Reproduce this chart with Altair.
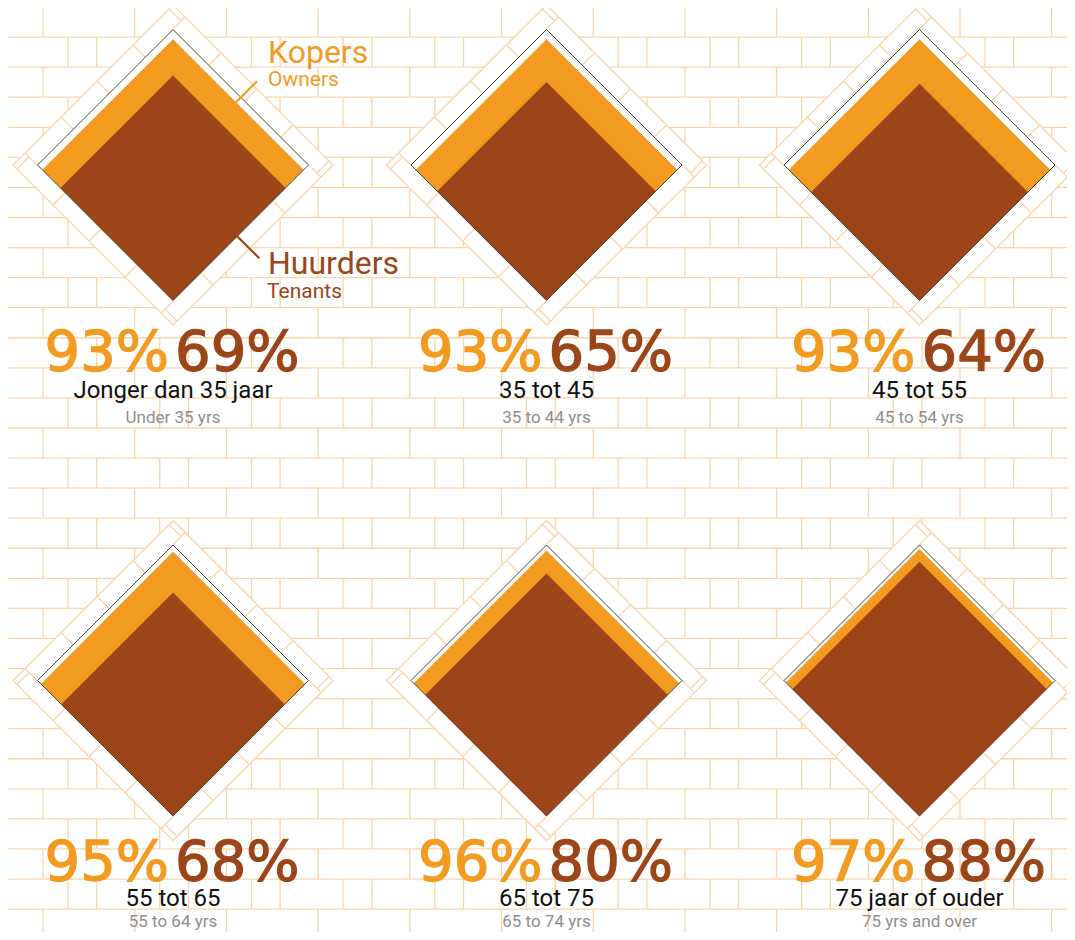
import altair as alt
import pandas as pd
import numpy as np

# ---------------- data ----------------
labels_nl = ["Jonger dan 35 jaar", "35 tot 45", "45 tot 55", "55 tot 65", "65 tot 75", "75 jaar of ouder"]
labels_en = ["Under 35 yrs", "35 to 44 yrs", "45 to 54 yrs", "55 to 64 yrs", "65 to 74 yrs", "75 yrs and over"]
owners = [93, 93, 93, 95, 96, 97]
tenants = [69, 65, 64, 68, 80, 88]
legend_nl = ["Kopers", "Huurders"]
legend_en = ["Owners", "Tenants"]

# ---------------- layout / style ----------------
OFF = 8
W, H = 1059, 924
col_cx = [173, 546.5, 919.5]
row_cy = [165, 680.5]
R_BOX = 135.5
R_FRAME = 160
num_base = [370, 880]
nl_base = [398, 906]
en_base = [423, 927]

ORANGE = "#F39A21"
BROWN = "#9B4519"
OUTLINE = "#4d4033"
BRICK = "#FCD4AC"
GREY = "#8e8e8e"

xs = alt.Scale(domain=[OFF, OFF + W], range=[0, W], nice=False, zero=False)
ys = alt.Scale(domain=[OFF, OFF + H], range=[0, H], nice=False, zero=False)


def X(f="x"):
    return alt.X(f + ":Q", scale=xs, axis=None)


def Y(f="y"):
    return alt.Y(f + ":Q", scale=ys, axis=None)


# ---------------- brick wall ----------------
ROW_H = 30.07
BRICK_W = 91.7
hrows = []
for k in range(32):
    y = 7 + ROW_H * k
    if OFF <= y <= OFF + H:
        hrows.append({"x": OFF, "x2": OFF + W, "y": y, "y2": y})
vrows = []
for k in range(-1, 31):
    y0 = max(7 + ROW_H * k, OFF)
    y1 = min(7 + ROW_H * (k + 1), OFF + H)
    if y1 <= y0:
        continue
    offs = [43] if k % 2 == 0 else [5, 68]
    for o in offs:
        for j in range(0, 13):
            x = o + BRICK_W * j
            if OFF <= x <= OFF + W:
                vrows.append({"x": x, "x2": x, "y": y0, "y2": y1})
bricks = pd.DataFrame(hrows + vrows)

brick_layer = alt.Chart(bricks).mark_rule(stroke=BRICK, strokeWidth=1.3).encode(
    x=X(), x2="x2:Q", y=Y(), y2="y2:Q"
)

# ---------------- panel geometry ----------------
panels = []
for i in range(6):
    cx = col_cx[i % 3]
    cy = row_cy[i // 3]
    bottom = cy + R_BOX
    ro = R_BOX * np.sqrt(owners[i] / 100)
    rt = R_BOX * np.sqrt(tenants[i] / 100)
    panels.append({
        "cx": cx, "cy": cy,
        "frame_size": (2 * R_FRAME) ** 2,
        "box_size": (2 * R_BOX) ** 2,
        "o_cy": bottom - ro, "o_size": (2 * ro) ** 2,
        "t_cy": bottom - rt, "t_size": (2 * rt) ** 2,
        "o_txt": f"{owners[i]}%", "t_txt": f"{tenants[i]}%",
        "nl": labels_nl[i], "en": labels_en[i],
        "num_x_o": cx - 4, "num_x_t": cx + 2,
        "num_y": num_base[i // 3], "nl_y": nl_base[i // 3], "en_y": en_base[i // 3],
    })
pdf = pd.DataFrame(panels)

# frame ticks (rotated bricks in the white frame)
normals = [(-1, -1), (1, -1), (1, 1), (-1, 1)]
edges = [(1, -1), (1, 1), (-1, 1), (-1, -1)]
ticks = []
for p in panels:
    for n, e in zip(normals, edges):
        for j in range(5):
            t = 24 + 72 * j - R_FRAME
            pts = []
            for h in (R_FRAME, R_BOX):
                dx = (n[0] * h + e[0] * t) / 2
                dy = (n[1] * h + e[1] * t) / 2
                pts.append((p["cx"] + dx, p["cy"] + dy))
            ticks.append({"x": pts[0][0], "y": pts[0][1], "x2": pts[1][0], "y2": pts[1][1]})
tdf = pd.DataFrame(ticks)

base = alt.Chart(pdf)

frame = base.mark_point(shape="diamond", filled=True, fill="white", stroke=BRICK,
                        strokeWidth=1.3, opacity=1).encode(
    x=X("cx"), y=Y("cy"), size=alt.Size("frame_size:Q", scale=None))

tick_layer = alt.Chart(tdf).mark_rule(stroke=BRICK, strokeWidth=1.2).encode(
    x=X(), x2="x2:Q", y=Y(), y2="y2:Q")

box = base.mark_point(shape="diamond", filled=True, fill="white", strokeWidth=0,
                      opacity=1).encode(
    x=X("cx"), y=Y("cy"), size=alt.Size("box_size:Q", scale=None))

own = base.mark_point(shape="diamond", filled=True, fill=ORANGE, strokeWidth=0,
                      opacity=1).encode(
    x=X("cx"), y=Y("o_cy"), size=alt.Size("o_size:Q", scale=None))

ten = base.mark_point(shape="diamond", filled=True, fill=BROWN, strokeWidth=0,
                      opacity=1).encode(
    x=X("cx"), y=Y("t_cy"), size=alt.Size("t_size:Q", scale=None))

outline = base.mark_point(shape="diamond", filled=False, stroke=OUTLINE,
                          strokeWidth=1, opacity=1).encode(
    x=X("cx"), y=Y("cy"), size=alt.Size("box_size:Q", scale=None))

num_o = base.mark_text(align="right", baseline="alphabetic", font="DejaVu Sans",
                       fontSize=56, color=ORANGE, stroke=ORANGE, strokeWidth=1.3).encode(
    x=X("num_x_o"), y=Y("num_y"), text="o_txt:N")
num_t = base.mark_text(align="left", baseline="alphabetic", font="DejaVu Sans",
                       fontSize=56, color=BROWN, stroke=BROWN, strokeWidth=1.3).encode(
    x=X("num_x_t"), y=Y("num_y"), text="t_txt:N")
lab_nl = base.mark_text(align="center", baseline="alphabetic", font="Roboto",
                        fontSize=24, color="#111111").encode(
    x=X("cx"), y=Y("nl_y"), text="nl:N")
lab_en = base.mark_text(align="center", baseline="alphabetic", font="Roboto",
                        fontSize=17, color=GREY).encode(
    x=X("cx"), y=Y("en_y"), text="en:N")

# ---------------- legend annotation on first panel ----------------
p0 = panels[0]
ro0 = R_BOX * np.sqrt(owners[0] / 100)
ocy0 = p0["cy"] + R_BOX - ro0
ann_x = p0["cx"] + 95
ann = pd.DataFrame([
    {"x": ann_x, "y": p0["cy"] - 102, "t": legend_nl[0], "c": ORANGE, "s": 32},
    {"x": ann_x, "y": p0["cy"] - 79, "t": legend_en[0], "c": ORANGE, "s": 21},
    {"x": ann_x, "y": p0["cy"] + 109, "t": legend_nl[1], "c": BROWN, "s": 32},
    {"x": ann_x - 1, "y": p0["cy"] + 133, "t": legend_en[1], "c": BROWN, "s": 21},
])
ann_text = alt.Chart(ann).mark_text(align="left", baseline="alphabetic", font="Roboto").encode(
    x=X(), y=Y(), text="t:N", color=alt.Color("c:N", scale=None),
    size=alt.Size("s:Q", scale=None))

sx_o = p0["cx"] + ro0 / 2 - 2.3
sy_o = ocy0 - ro0 / 2 - 2.3
sx_t = p0["cx"] + R_BOX / 2 - 3.5
sy_t = p0["cy"] + R_BOX / 2 + 3.5
leaders = pd.DataFrame([
    {"x": sx_o, "y": sy_o, "x2": sx_o + 21, "y2": sy_o - 21, "c": ORANGE},
    {"x": sx_t, "y": sy_t, "x2": sx_t + 22, "y2": sy_t + 22, "c": BROWN},
])
lead = alt.Chart(leaders).mark_rule(strokeWidth=2.2).encode(
    x=X(), x2="x2:Q", y=Y(), y2="y2:Q", color=alt.Color("c:N", scale=None))

chart = alt.layer(
    brick_layer, frame, tick_layer, box, own, ten, outline,
    num_o, num_t, lab_nl, lab_en, ann_text, lead
).properties(
    width=W, height=H, padding=0,
    autosize=alt.AutoSizeParams(type="none"),
    background="white",
).configure_view(strokeWidth=0)

chart.save("out.html", embed_options={"renderer": "svg", "actions": False})
